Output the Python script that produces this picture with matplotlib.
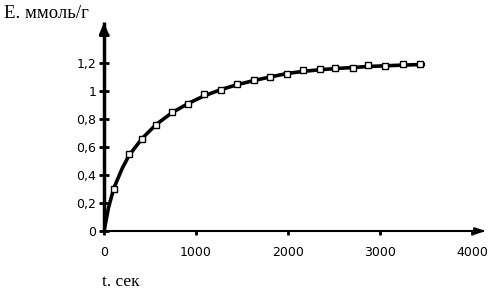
import matplotlib
matplotlib.use("Agg")
import matplotlib.pyplot as plt

t_points = [109, 272, 413, 565, 739, 913, 1087, 1272, 1446, 1630, 1804, 1989,
            2163, 2348, 2511, 2707, 2870, 3054, 3250, 3435]
e_points = [0.30, 0.55, 0.66, 0.76, 0.85, 0.91, 0.98, 1.01, 1.05, 1.08, 1.10, 1.12,
            1.15, 1.157, 1.164, 1.164, 1.186, 1.18, 1.19, 1.19]
t_curve = [0, 50, 109, 200, 272, 413, 565, 739, 913, 1087, 1272, 1446, 1630, 1804,
           1989, 2163, 2348, 2511, 2707, 2870, 3054, 3250, 3490]
e_curve = [0.0, 0.17, 0.31, 0.45, 0.54, 0.66, 0.76, 0.845, 0.91, 0.965, 1.01, 1.045,
           1.075, 1.10, 1.125, 1.14, 1.152, 1.16, 1.168, 1.175, 1.18, 1.185, 1.19]
x_ticks = [0, 1000, 2000, 3000, 4000]
y_ticks = [0, 0.2, 0.4, 0.6, 0.8, 1.0, 1.2, 1.4]
y_labels = ["0", "0,2", "0,4", "0,6", "0,8", "1", "1,2", ""]

W, H = 495, 289
fig = plt.figure(figsize=(W / 100, H / 100), dpi=100)
x0, y0 = 104, 231
px_per_t = 92 / 1000
px_per_e = 140 / 1.0
xmax, ymax = 4120, 1.49
ax = fig.add_axes([x0 / W, (H - y0) / H, xmax * px_per_t / W, ymax * px_per_e / H])
ax.set_xlim(0, xmax)
ax.set_ylim(0, ymax)
for s in ["top", "right"]:
    ax.spines[s].set_visible(False)
ax.spines["left"].set_linewidth(2.5)
ax.spines["bottom"].set_linewidth(1.5)
ax.spines["left"].set_capstyle("butt")

ax.plot(t_curve, e_curve, color="black", lw=2.6, solid_capstyle="butt", zorder=2)
ax.plot(t_points, e_points, ls="none", marker="s", ms=5, mfc="white", mec="black",
        mew=1.0, zorder=3)

ax.set_xticks(x_ticks)
ax.set_xticklabels([str(v) for v in x_ticks])
ax.set_yticks(y_ticks)
ax.set_yticklabels(y_labels)
ax.tick_params(axis="y", direction="inout", length=7, width=2, labelsize=9, pad=2)
ax.tick_params(axis="x", direction="out", length=3, width=2, labelsize=9, pad=8)
for lab in ax.get_xticklabels() + ax.get_yticklabels():
    lab.set_fontfamily("DejaVu Sans")

# arrows
ax.annotate("", xy=(0, 1.51), xytext=(0, 1.40), xycoords="data",
            arrowprops=dict(arrowstyle="-|>,head_width=0.25,head_length=0.6",
                            color="black", lw=2.5), annotation_clip=False)
ax.annotate("", xy=(4180, 0), xytext=(4000, 0), xycoords="data",
            arrowprops=dict(arrowstyle="-|>,head_width=0.2,head_length=0.6",
                            color="black", lw=1.5), annotation_clip=False)

fig.text(4 / W, 1 - 18 / H, "E. ммоль/г", fontsize=13.5, family="Liberation Serif",
         ha="left", va="baseline")
fig.text(102 / W, 1 - 286 / H, "t. сек", fontsize=12.5, family="Liberation Serif",
         ha="left", va="baseline")

fig.savefig("out.png", dpi=100)
